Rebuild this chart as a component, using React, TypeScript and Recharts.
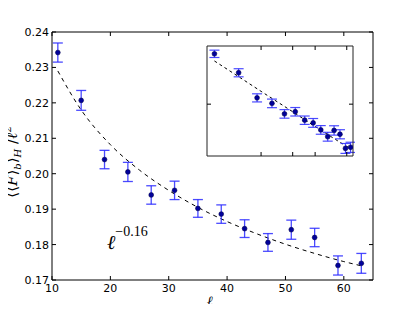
import React from "react";
import { ComposedChart, Scatter, Line, XAxis, YAxis, ErrorBar } from "recharts";

// measured points (ell, mean, error)
const ells = [11, 15, 19, 23, 27, 31, 35, 39, 43, 47, 51, 55, 59, 63];
const means = [0.2342, 0.2207, 0.204, 0.2005, 0.194, 0.1953, 0.1902, 0.1886, 0.1845, 0.1806, 0.1842, 0.182, 0.1741, 0.1747];
const errs = [0.0027, 0.0028, 0.0026, 0.0027, 0.0026, 0.0026, 0.0025, 0.0026, 0.0025, 0.0025, 0.0027, 0.0026, 0.0027, 0.0028];

// dashed fit curve
const fitElls = [11, 15, 20, 25, 30, 35, 40, 45, 50, 55, 60, 63];
const fitVals = [0.229, 0.218, 0.2082, 0.201, 0.1953, 0.1905, 0.1865, 0.1831, 0.1801, 0.1775, 0.1752, 0.174];

const xTicks = [10, 20, 30, 40, 50, 60];
const yTicks = [0.17, 0.18, 0.19, 0.2, 0.21, 0.22, 0.23, 0.24];
const insetXTicks = [20, 30, 40, 50, 60];
const insetYTicks = [0.2];

const points = ells.map((l, i) => ({ l, v: means[i], e: errs[i] }));
const fit = fitElls.map((l, i) => ({ l, fit: fitVals[i] }));

const tickFont = { fontFamily: "DejaVu Sans", fontSize: 11, fill: "#000" };
const TL = 4;

const BottomTick = (p: any) => (
  <g>
    <line x1={p.x} x2={p.x} y1={p.y} y2={p.y - TL} stroke="#000" />
    {p.label && (
      <text x={p.x} y={p.y + 12} textAnchor="middle" {...tickFont}>
        {p.payload.value}
      </text>
    )}
  </g>
);
const TopTick = (p: any) => <line x1={p.x} x2={p.x} y1={p.y} y2={p.y + TL} stroke="#000" />;
const LeftTick = (p: any) => (
  <g>
    <line x1={p.x} x2={p.x + TL} y1={p.y} y2={p.y} stroke="#000" />
    {p.label && (
      <text x={p.x - 3} y={p.y + 4} textAnchor="end" {...tickFont}>
        {p.payload.value.toFixed(2)}
      </text>
    )}
  </g>
);
const RightTick = (p: any) => <line x1={p.x} x2={p.x - TL} y1={p.y} y2={p.y} stroke="#000" />;

const Dot = (p: any) => <circle cx={p.cx} cy={p.cy} r={2.4} fill="#00009a" stroke="#000050" strokeWidth={0.6} />;

const axisCommon = { tickLine: false, tickSize: 0, tickMargin: 0, allowDataOverflow: true, type: "number" as const };

export default function App() {
  return (
    <div style={{ position: "relative", width: 415, height: 312, margin: -8, background: "#fff" }}>
      <ComposedChart width={415} height={312} data={points} margin={{ top: 31, right: 41, bottom: 31, left: 51 }}>
        <XAxis {...axisCommon} dataKey="l" domain={[10, 65]} ticks={xTicks} height={1}
          axisLine={{ stroke: "#000" }} tick={(p: any) => <BottomTick {...p} label />} />
        <XAxis {...axisCommon} xAxisId="top" orientation="top" dataKey="l" domain={[10, 65]} ticks={xTicks}
          height={1} axisLine={{ stroke: "#000" }} tick={TopTick} />
        <YAxis {...axisCommon} domain={[0.17, 0.24]} ticks={yTicks} width={1}
          axisLine={{ stroke: "#000" }} tick={(p: any) => <LeftTick {...p} label />} />
        <YAxis {...axisCommon} yAxisId="right" orientation="right" domain={[0.17, 0.24]} ticks={yTicks}
          width={1} axisLine={{ stroke: "#000" }} tick={RightTick} />
        <Line data={fit} dataKey="fit" type="monotone" stroke="#000" strokeWidth={1} strokeDasharray="4 4"
          dot={false} isAnimationActive={false} />
        <Scatter data={points} dataKey="v" shape={Dot} isAnimationActive={false}>
          <ErrorBar dataKey="e" direction="y" width={5} stroke="#2a2aff" strokeOpacity={0.85} strokeWidth={1.3} />
        </Scatter>
      </ComposedChart>

      <div style={{ position: "absolute", left: 205, top: 44, width: 150, height: 114, background: "#fff" }}>
        <ComposedChart width={150} height={114} data={points} margin={{ top: 1, right: 1, bottom: 1, left: 1 }}>
          <XAxis {...axisCommon} dataKey="l" scale="log" domain={[10, 65]} ticks={insetXTicks} height={1}
            axisLine={{ stroke: "#222" }} tick={BottomTick} />
          <XAxis {...axisCommon} xAxisId="top" orientation="top" dataKey="l" scale="log" domain={[10, 65]}
            ticks={insetXTicks} height={1} axisLine={{ stroke: "#222" }} tick={TopTick} />
          <YAxis {...axisCommon} scale="log" domain={[0.17, 0.24]} ticks={insetYTicks} width={1}
            axisLine={{ stroke: "#222" }} tick={LeftTick} />
          <YAxis {...axisCommon} yAxisId="right" orientation="right" scale="log" domain={[0.17, 0.24]}
            ticks={insetYTicks} width={1} axisLine={{ stroke: "#222" }} tick={RightTick} />
          <Line data={fit} dataKey="fit" type="monotone" stroke="#000" strokeWidth={1} strokeDasharray="3 3"
            dot={false} isAnimationActive={false} />
          <Scatter data={points} dataKey="v" shape={Dot} isAnimationActive={false}>
            <ErrorBar dataKey="e" direction="y" width={5} stroke="#2a2aff" strokeOpacity={0.85} strokeWidth={1.2} />
          </Scatter>
        </ComposedChart>
      </div>

      <svg width={415} height={312} style={{ position: "absolute", left: 0, top: 0, pointerEvents: "none" }}>
        <text x={107} y={249} fontFamily="DejaVu Serif" fontSize={20} fontStyle="italic">
          ℓ
          <tspan dy={-13} fontSize={14} fontStyle="normal" fontFamily="Liberation Serif">−0.16</tspan>
        </text>
        <text x={207} y={306} fontFamily="DejaVu Serif" fontSize={14} fontStyle="italic">ℓ</text>
        <text transform="rotate(-90)" x={-162} y={17} textAnchor="middle" fontFamily="DejaVu Serif" fontSize={15}>
          ⟨⟨<tspan fontStyle="italic">F̃</tspan>⟩<tspan dy={4} fontSize={10} fontStyle="italic">b</tspan>
          <tspan dy={-4}>⟩</tspan><tspan dy={4} fontSize={10} fontStyle="italic">H</tspan>
          <tspan dy={-4}> /</tspan><tspan fontStyle="italic">ℓ</tspan><tspan dy={-6} fontSize={10}>2</tspan>
        </text>
      </svg>
    </div>
  );
}
